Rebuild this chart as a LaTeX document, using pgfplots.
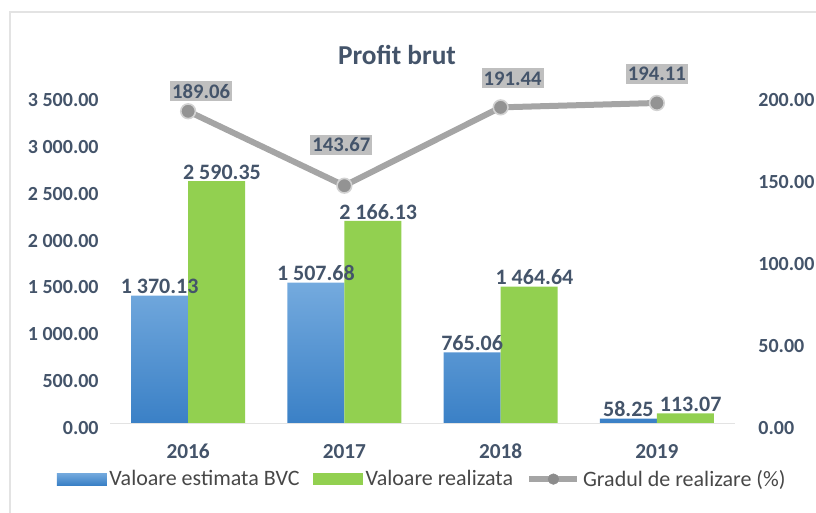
\documentclass[border=0pt]{standalone}
\usepackage{pgfplots}
\usepackage{pgfplotstable}
\pgfplotsset{compat=1.18}
\usepackage{fontspec}
\setmainfont{Carlito}
\definecolor{txt}{HTML}{44546A}
\definecolor{bluetop}{HTML}{74AADE}
\definecolor{bluebot}{HTML}{3A80C6}
\definecolor{grn}{HTML}{92D050}
\definecolor{lgray}{HTML}{A5A5A5}
\definecolor{boxgray}{HTML}{BFBFBF}
\definecolor{frame}{HTML}{E3E3E3}

% x, grad, label offsets (pt)
\pgfplotstableread{
x  y       dx     dy
0  189.06  9.75   15
1  143.67  -2.25  30.75
2  191.44  9      21.75
3  194.11  0      21.75
}\gradtable

\newcommand{\yr}[1]{\rule{0pt}{22pt}#1}

\begin{document}
\begin{tikzpicture}
\path[use as bounding box] (0,0) rectangle (612pt,384.75pt);
\draw[frame,line width=1.2pt] (7.5pt,0) -- (7.5pt,375.75pt) -- (612pt,375.75pt);

% bars, left axis
\begin{axis}[
    at={(82.5pt,66.75pt)}, anchor=south west,
    scale only axis,
    width=468.75pt, height=246pt,
    ybar=0pt, bar width=42.75pt,
    xmin=-0.5, xmax=3.5,
    ymin=0, ymax=3500,
    xtick={0,1,2,3},
    xticklabels={\yr{2016},\yr{2017},\yr{2018},\yr{2019}},
    ytick={0,500,...,3500},
    axis y line*=left, axis x line*=bottom,
    axis line style={draw=none},
    major tick length=0pt,
    /pgf/number format/.cd, fixed, fixed zerofill, precision=2, 1000 sep={\ }, assume math mode=true,
    /pgfplots/.cd,
    tick label style={font=\fontsize{15}{18}\selectfont\bfseries, text=txt},
    yticklabel style={xshift=-5pt, yshift=-3pt},
    xticklabel style={font=\fontsize{16}{19}\selectfont\bfseries},
    nodes near coords,
    nodes near coords style={font=\fontsize{16.5}{19}\selectfont\bfseries, text=txt, inner sep=1pt, yshift=0pt},
    legend style={at={(0.5,-0.168)}, anchor=center, draw=none, fill=none,
        legend columns=-1, font=\fontsize{16.5}{19}\selectfont, text=black!72,
        /tikz/every even column/.append style={column sep=8pt}},
    legend image code/.code={\path[#1,draw=none] (0pt,-4.5pt) rectangle (37.5pt,4.5pt);},
]
\addplot[top color=bluetop, bottom color=bluebot, draw=none]
    coordinates {(0,1370.13) (1,1507.68) (2,765.06) (3,58.25)};
\addlegendentry{Valoare estimata BVC}
\addplot[fill=grn, draw=none, nodes near coords style={xshift=4pt}]
    coordinates {(0,2590.35) (1,2166.13) (2,1464.64) (3,113.07)};
\addlegendentry{Valoare realizata}
\addlegendimage{legend image code/.code={
    \draw[lgray,line width=4.5pt] (0pt,0pt) -- (36pt,0pt);
    \fill[gray!90] (18pt,0pt) circle (4pt);}}
\addlegendentry{Gradul de realizare (\%)}
\draw[frame,line width=1pt] (axis cs:-0.5,0) -- (axis cs:3.5,0);
\end{axis}

% line, right axis
\begin{axis}[
    at={(82.5pt,66.75pt)}, anchor=south west,
    scale only axis,
    width=468.75pt, height=246pt,
    xmin=-0.5, xmax=3.5,
    ymin=0, ymax=200,
    ytick={0,50,...,200},
    axis x line=none, axis y line*=right,
    axis line style={draw=none},
    major tick length=0pt,
    /pgf/number format/.cd, fixed, fixed zerofill, precision=2, assume math mode=true,
    /pgfplots/.cd,
    tick label style={font=\fontsize{15}{18}\selectfont\bfseries, text=txt},
    yticklabel style={xshift=14pt, yshift=-3pt},
]
\addplot[lgray, line width=4.5pt, mark=*, mark size=5.5pt, yshift=2pt,
    mark options={fill=gray!85, draw=gray!35, line width=1.2pt},
    visualization depends on={\thisrow{dx} \as \dx},
    visualization depends on={\thisrow{dy} \as \dy},
    nodes near coords,
    nodes near coords style={font=\fontsize{15.5}{18}\selectfont\bfseries, text=txt,
        fill=boxgray, inner sep=1pt, minimum width=46.5pt, minimum height=15pt,
        anchor=center, xshift=\dx, yshift=\dy}]
    table[x=x, y=y] {\gradtable};
\end{axis}

\node[font=\fontsize{20.5}{24}\selectfont\bfseries, text=txt] at (297.75pt,343.5pt) {Profit brut};
\end{tikzpicture}
\end{document}
